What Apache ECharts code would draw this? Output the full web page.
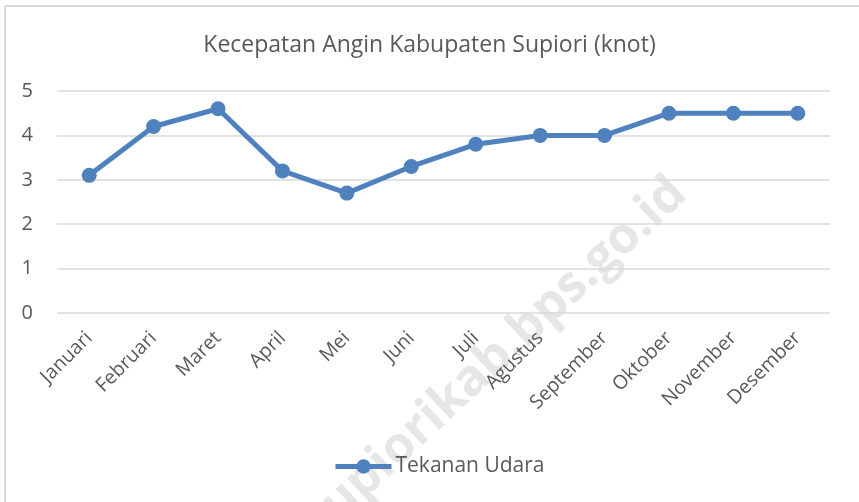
<!DOCTYPE html>
<html>
<head>
<meta charset="utf-8">
<script src="https://cdn.jsdelivr.net/npm/echarts@6/dist/echarts.min.js"></script>
<style>
  html, body { margin: 0; padding: 0; background: #fff; }
  #chart { width: 859px; height: 502px; }
</style>
</head>
<body>
<div id="chart"></div>
<script>
var months = ['Januari', 'Februari', 'Maret', 'April', 'Mei', 'Juni', 'Juli', 'Agustus', 'September', 'Oktober', 'November', 'Desember'];
var windSpeed = [3.1, 4.2, 4.6, 3.2, 2.7, 3.3, 3.8, 4.0, 4.0, 4.5, 4.5, 4.5];
var seriesName = 'Tekanan Udara';
var yTicks = [0, 1, 2, 3, 4, 5];

var textColor = '#595959';
var lineColor = '#4e81bd';
var fontName = '"Open Sans", sans-serif';

var mychart = echarts.init(document.getElementById('chart'));

var option = {
    animation: false,
    backgroundColor: '#fff',
    title: {
        text: 'Kecepatan Angin Kabupaten Supiori (knot)',
        left: 'center',
        top: 29,
        textStyle: {
            color: textColor,
            fontFamily: fontName,
            fontWeight: 'normal',
            fontSize: 23
        }
    },
    legend: {
        data: [seriesName],
        bottom: 20,
        left: 328,
        itemWidth: 56,
        itemHeight: 18,
        itemGap: 4,
        lineStyle: { width: 5 },
        textStyle: {
            color: textColor,
            fontFamily: fontName,
            fontSize: 21,
            padding: [0, 0, 0, -1]
        }
    },
    grid: {
        left: 57,
        right: 29,
        top: 91,
        bottom: 189
    },
    xAxis: {
        type: 'category',
        data: months,
        boundaryGap: true,
        axisLine: { show: false },
        axisTick: { show: false },
        axisLabel: {
            rotate: 45,
            margin: 22,
            interval: 0,
            color: textColor,
            fontFamily: fontName,
            fontSize: 19.5
        }
    },
    yAxis: {
        type: 'value',
        min: yTicks[0],
        max: yTicks[yTicks.length - 1],
        interval: 1,
        axisLine: { show: false },
        axisTick: { show: false },
        splitLine: { lineStyle: { color: '#d9d9d9', width: 1.5 } },
        axisLabel: {
            margin: 24,
            color: textColor,
            fontFamily: fontName,
            fontSize: 20
        }
    },
    graphic: [
        {
            type: 'text',
            z: -10,
            silent: true,
            x: 495,
            y: 358,
            rotation: Math.PI * 43 / 180,
            style: {
                text: 'supiorikab.bps.go.id',
                fill: '#e6e6e6',
                font: 'bold 50px "Open Sans", sans-serif',
                textAlign: 'center',
                textVerticalAlign: 'middle'
            }
        },
        {
            type: 'line',
            silent: true,
            shape: { x1: 5, y1: 6, x2: 859, y2: 6 },
            style: { stroke: '#d9d9d9', lineWidth: 2 }
        },
        {
            type: 'line',
            silent: true,
            shape: { x1: 5, y1: 6, x2: 5, y2: 502 },
            style: { stroke: '#d9d9d9', lineWidth: 2 }
        }
    ],
    series: [{
        name: seriesName,
        type: 'line',
        data: windSpeed,
        symbol: 'circle',
        symbolSize: 15,
        lineStyle: { color: lineColor, width: 5 },
        itemStyle: { color: lineColor }
    }]
};

mychart.setOption(option);
</script>
</body>
</html>
